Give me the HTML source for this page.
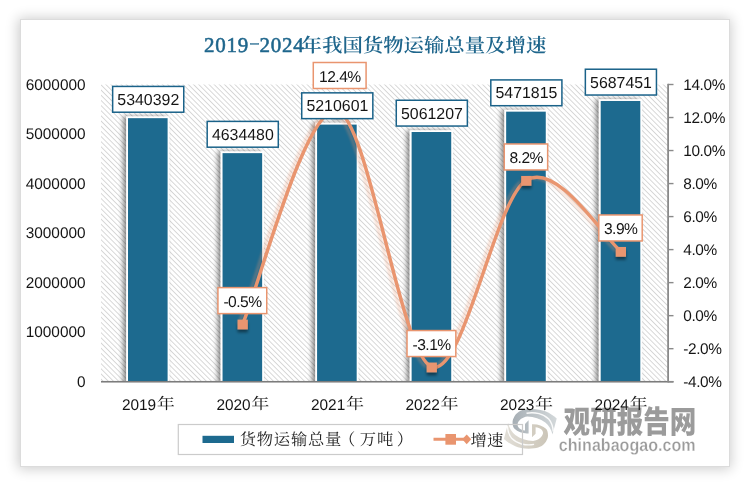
<!DOCTYPE html>
<html lang="zh"><head><meta charset="utf-8"><title>2019-2024年我国货物运输总量及增速</title>
<style>
html,body{margin:0;padding:0;background:#fff;}
body{width:750px;height:486px;position:relative;overflow:hidden;font-family:"Liberation Sans","Noto Sans CJK SC",sans-serif;}
.card{position:absolute;left:20px;top:18.7px;width:707.8px;height:446px;background:#fff;border:1px solid #dcdcdc;box-shadow:-0.5px 0.5px 12px 1.5px rgba(0,0,0,0.2);}
svg{position:absolute;left:0;top:0;text-rendering:geometricPrecision;}
.num{font-family:"Liberation Sans",sans-serif;font-size:15.4px;fill:#151515;}
.sp{letter-spacing:0px;}
.cjk{font-family:"Liberation Serif","Noto Serif CJK SC",serif;}
</style></head><body>
<div class="card"></div>
<svg width="750" height="486" viewBox="0 0 750 486">
<defs>
<pattern id="hatch" width="3.65" height="3.65" patternUnits="userSpaceOnUse" patternTransform="rotate(-45)">
<rect width="3.65" height="3.65" fill="#fff"/><rect x="0" y="0" width="0.7" height="3.65" fill="#c9c9c9"/>
</pattern>
<filter id="bsh" x="-30%" y="-5%" width="160%" height="110%"><feGaussianBlur in="SourceAlpha" stdDeviation="2.6"/><feOffset dx="-2.6" dy="-0.5"/><feComponentTransfer><feFuncA type="linear" slope="0.47"/></feComponentTransfer><feMerge><feMergeNode/><feMergeNode in="SourceGraphic"/></feMerge></filter>
<filter id="msh" x="-50%" y="-50%" width="200%" height="220%"><feGaussianBlur in="SourceAlpha" stdDeviation="1.5"/><feOffset dx="0" dy="2.5"/><feComponentTransfer><feFuncA type="linear" slope="0.45"/></feComponentTransfer><feMerge><feMergeNode/><feMergeNode in="SourceGraphic"/></feMerge></filter>
<filter id="lsh" x="-5%" y="-5%" width="110%" height="110%"><feGaussianBlur stdDeviation="1.3"/></filter>
</defs>

<rect x="101.0" y="84.5" width="567.1" height="297.2" fill="url(#hatch)"/>
<clipPath id="pc"><rect x="101.0" y="64.5" width="567.1" height="317.2"/></clipPath><g clip-path="url(#pc)">
<rect x="126.20" y="116.47" width="43.2" height="271.53" fill="#fff" filter="url(#bsh)"/>
<rect x="128.00" y="118.17" width="39.6" height="263.53" fill="#1d6a8f"/>
<rect x="220.74" y="151.44" width="43.2" height="236.56" fill="#fff" filter="url(#bsh)"/>
<rect x="222.54" y="153.14" width="39.6" height="228.56" fill="#1d6a8f"/>
<rect x="315.28" y="122.90" width="43.2" height="265.10" fill="#fff" filter="url(#bsh)"/>
<rect x="317.08" y="124.60" width="39.6" height="257.10" fill="#1d6a8f"/>
<rect x="409.82" y="130.30" width="43.2" height="257.70" fill="#fff" filter="url(#bsh)"/>
<rect x="411.62" y="132.00" width="39.6" height="249.70" fill="#1d6a8f"/>
<rect x="504.36" y="109.96" width="43.2" height="278.04" fill="#fff" filter="url(#bsh)"/>
<rect x="506.16" y="111.66" width="39.6" height="270.04" fill="#1d6a8f"/>
<rect x="598.90" y="99.28" width="43.2" height="288.72" fill="#fff" filter="url(#bsh)"/>
<rect x="600.70" y="100.98" width="39.6" height="280.72" fill="#1d6a8f"/>
</g>
<g id="wm">
<defs>
<linearGradient id="gU" gradientUnits="userSpaceOnUse" x1="512" y1="0" x2="557" y2="0"><stop offset="0" stop-color="#a6aeb4"/><stop offset="0.45" stop-color="#bbc2c6"/><stop offset="1" stop-color="#d3d8da"/></linearGradient>
<linearGradient id="gL" gradientUnits="userSpaceOnUse" x1="512" y1="0" x2="557" y2="0"><stop offset="0" stop-color="#cbc5b8"/><stop offset="0.45" stop-color="#d5d0c5"/><stop offset="1" stop-color="#e2dfd8"/></linearGradient>
</defs>
<g transform="rotate(180 530.3 428.8)"><path d="M528.6,420.3 L528.6,433.4 C524,433.8 518,432.5 514.3,428.6 C512.3,426 512,420 513.7,417.9 C516,412.5 521,409.8 526.3,409.3 C533,408.3 541,409.3 545.3,411.3 C550,413.2 554,416 556.7,418.5 L552.5,434.6 C551.3,429.5 548.6,425.3 545.3,422.6 C540.5,419 534,417 527.5,416.6 C522,417.2 518.5,420.5 517.6,424 C517.2,427 520,430 525,430.4 L525,423.9 Z" fill="url(#gL)"/><path d="M526.5,413.2 C535,411.6 544,414 548.7,419 C551.7,422.5 553,427 553.2,431.5" fill="none" stroke="#fff" stroke-width="1.4" opacity="0.9"/></g>
<g><path d="M528.6,420.3 L528.6,433.4 C524,433.8 518,432.5 514.3,428.6 C512.3,426 512,420 513.7,417.9 C516,412.5 521,409.8 526.3,409.3 C533,408.3 541,409.3 545.3,411.3 C550,413.2 554,416 556.7,418.5 L552.5,434.6 C551.3,429.5 548.6,425.3 545.3,422.6 C540.5,419 534,417 527.5,416.6 C522,417.2 518.5,420.5 517.6,424 C517.2,427 520,430 525,430.4 L525,423.9 Z" fill="url(#gU)"/><path d="M526.5,413.2 C535,411.6 544,414 548.7,419 C551.7,422.5 553,427 553.2,431.5" fill="none" stroke="#fff" stroke-width="1.4" opacity="0.9"/></g>
<text transform="translate(563.6,432.5) scale(1.013,1.19)" font-family="'Noto Sans CJK SC','WenQuanYi Zen Hei',sans-serif" font-weight="900" font-size="26.2px" fill="#9b9b9b">观研报告网</text>
<text transform="translate(558.8,450.8) scale(0.905,1)" font-family="'Liberation Sans',sans-serif" font-weight="bold" font-size="17.8px" fill="#9b9b9b" stroke="#fff" stroke-width="0.3">chinabaogao.com</text>
</g>
<rect x="101.0" y="380.95" width="572.5" height="1.6" fill="#7c7c7c"/>
<rect x="667.2" y="83.8" width="1.8" height="298.59999999999997" fill="#8a8a8a"/>
<rect x="668.1" y="83.80" width="5.4" height="1.4" fill="#8a8a8a"/>
<text class="num" x="683.3" y="89.50" letter-spacing="-0.4px">14.0%</text>
<rect x="668.1" y="116.82" width="5.4" height="1.4" fill="#8a8a8a"/>
<text class="num" x="683.3" y="122.52" letter-spacing="-0.4px">12.0%</text>
<rect x="668.1" y="149.84" width="5.4" height="1.4" fill="#8a8a8a"/>
<text class="num" x="683.3" y="155.54" letter-spacing="-0.4px">10.0%</text>
<rect x="668.1" y="182.87" width="5.4" height="1.4" fill="#8a8a8a"/>
<text class="num" x="683.3" y="188.57" letter-spacing="-0.4px">8.0%</text>
<rect x="668.1" y="215.89" width="5.4" height="1.4" fill="#8a8a8a"/>
<text class="num" x="683.3" y="221.59" letter-spacing="-0.4px">6.0%</text>
<rect x="668.1" y="248.91" width="5.4" height="1.4" fill="#8a8a8a"/>
<text class="num" x="683.3" y="254.61" letter-spacing="-0.4px">4.0%</text>
<rect x="668.1" y="281.93" width="5.4" height="1.4" fill="#8a8a8a"/>
<text class="num" x="683.3" y="287.63" letter-spacing="-0.4px">2.0%</text>
<rect x="668.1" y="314.96" width="5.4" height="1.4" fill="#8a8a8a"/>
<text class="num" x="683.3" y="320.66" letter-spacing="-0.4px">0.0%</text>
<rect x="668.1" y="347.98" width="5.4" height="1.4" fill="#8a8a8a"/>
<text class="num" x="683.3" y="353.68" letter-spacing="-0.4px">-2.0%</text>
<rect x="668.1" y="381.00" width="5.4" height="1.4" fill="#8a8a8a"/>
<text class="num" x="683.3" y="386.70" letter-spacing="-0.4px">-4.0%</text>
<text class="num sp" x="85.6" y="386.70" text-anchor="end">0</text>
<text class="num sp" x="85.6" y="337.17" text-anchor="end">1000000</text>
<text class="num sp" x="85.6" y="287.63" text-anchor="end">2000000</text>
<text class="num sp" x="85.6" y="238.10" text-anchor="end">3000000</text>
<text class="num sp" x="85.6" y="188.57" text-anchor="end">4000000</text>
<text class="num sp" x="85.6" y="139.03" text-anchor="end">5000000</text>
<text class="num sp" x="85.6" y="89.50" text-anchor="end">6000000</text>
<text class="num" x="121.90" y="409.6">2019</text>
<text class="cjk" fill="#151515" transform="translate(156.80,409.4) scale(1.05,0.9)" font-size="17.2px">年</text>
<text class="num" x="216.44" y="409.6">2020</text>
<text class="cjk" fill="#151515" transform="translate(251.34,409.4) scale(1.05,0.9)" font-size="17.2px">年</text>
<text class="num" x="310.98" y="409.6">2021</text>
<text class="cjk" fill="#151515" transform="translate(345.88,409.4) scale(1.05,0.9)" font-size="17.2px">年</text>
<text class="num" x="405.52" y="409.6">2022</text>
<text class="cjk" fill="#151515" transform="translate(440.42,409.4) scale(1.05,0.9)" font-size="17.2px">年</text>
<text class="num" x="500.06" y="409.6">2023</text>
<text class="cjk" fill="#151515" transform="translate(534.96,409.4) scale(1.05,0.9)" font-size="17.2px">年</text>
<text class="num" x="594.60" y="409.6">2024</text>
<text class="cjk" fill="#151515" transform="translate(629.50,409.4) scale(1.05,0.9)" font-size="17.2px">年</text>
<path d="M242.64,323.91 C258.40,288.41 305.67,103.76 337.18,110.92 C368.69,118.07 400.21,355.28 431.72,366.84 C463.23,378.40 494.75,199.53 526.26,180.26 C557.77,161.00 605.04,239.43 620.80,251.26" fill="none" stroke="#e9956f" stroke-width="3.4" opacity="0.28" transform="translate(-4,0.5)" filter="url(#lsh)"/>
<path d="M242.64,323.91 C258.40,288.41 305.67,103.76 337.18,110.92 C368.69,118.07 400.21,355.28 431.72,366.84 C463.23,378.40 494.75,199.53 526.26,180.26 C557.77,161.00 605.04,239.43 620.80,251.26" fill="none" stroke="#e9956f" stroke-width="3.5" stroke-linecap="round" stroke-linejoin="round"/>
<rect x="237.54" y="319.61" width="10.3" height="9.8" fill="#e9956f" filter="url(#msh)"/>
<rect x="332.08" y="106.62" width="10.3" height="9.8" fill="#e9956f" filter="url(#msh)"/>
<rect x="426.62" y="362.54" width="10.3" height="9.8" fill="#e9956f" filter="url(#msh)"/>
<rect x="521.16" y="175.96" width="10.3" height="9.8" fill="#e9956f" filter="url(#msh)"/>
<rect x="615.70" y="246.96" width="10.3" height="9.8" fill="#e9956f" filter="url(#msh)"/>
<rect x="112.65" y="86.42" width="71.1" height="25.8" fill="#fff" stroke="#1a6289" stroke-width="1.5"/>
<text class="num" style="font-size:15.9px" x="148.30" y="104.87" text-anchor="middle">5340392</text>
<rect x="207.19" y="121.39" width="71.1" height="25.8" fill="#fff" stroke="#1a6289" stroke-width="1.5"/>
<text class="num" style="font-size:15.9px" x="242.84" y="139.84" text-anchor="middle">4634480</text>
<rect x="301.73" y="92.85" width="71.1" height="25.8" fill="#fff" stroke="#1a6289" stroke-width="1.5"/>
<text class="num" style="font-size:15.9px" x="337.38" y="111.30" text-anchor="middle">5210601</text>
<rect x="396.27" y="100.25" width="71.1" height="25.8" fill="#fff" stroke="#1a6289" stroke-width="1.5"/>
<text class="num" style="font-size:15.9px" x="431.92" y="118.70" text-anchor="middle">5061207</text>
<rect x="490.81" y="79.91" width="71.1" height="25.8" fill="#fff" stroke="#1a6289" stroke-width="1.5"/>
<text class="num" style="font-size:15.9px" x="526.46" y="98.36" text-anchor="middle">5471815</text>
<rect x="585.35" y="69.23" width="71.1" height="25.8" fill="#fff" stroke="#1a6289" stroke-width="1.5"/>
<text class="num" style="font-size:15.9px" x="621.00" y="87.68" text-anchor="middle">5687451</text>
<rect x="217.94" y="287.61" width="48.8" height="26.0" fill="#fff" stroke="#e9956f" stroke-width="1.5"/>
<text class="num" style="font-size:15.6px;letter-spacing:-0.5px" x="242.54" y="306.71" text-anchor="middle">-0.5%</text>
<rect x="313.28" y="62.50" width="52.8" height="26.0" fill="#fff" stroke="#e9956f" stroke-width="1.5"/>
<text class="num" style="font-size:15.6px;letter-spacing:-0.5px" x="339.88" y="81.60" text-anchor="middle">12.4%</text>
<rect x="407.02" y="330.54" width="48.8" height="26.0" fill="#fff" stroke="#e9956f" stroke-width="1.5"/>
<text class="num" style="font-size:15.6px;letter-spacing:-0.5px" x="431.62" y="349.64" text-anchor="middle">-3.1%</text>
<rect x="504.26" y="143.96" width="43.4" height="26.0" fill="#fff" stroke="#e9956f" stroke-width="1.5"/>
<text class="num" style="font-size:15.6px;letter-spacing:-0.5px" x="526.16" y="163.06" text-anchor="middle">8.2%</text>
<rect x="598.80" y="214.96" width="43.4" height="26.0" fill="#fff" stroke="#e9956f" stroke-width="1.5"/>
<text class="num" style="font-size:15.6px;letter-spacing:-0.5px" x="620.70" y="234.06" text-anchor="middle">3.9%</text>
<g fill="#1f668c" class="cjk"><text x="204" y="51.6" font-size="21px" letter-spacing="0.75px" stroke="#1f668c" stroke-width="0.55">2019</text><text transform="translate(249.2,47.3) scale(1.5,0.62)" font-size="21px" stroke="#1f668c" stroke-width="0.5">-</text><text x="259.4" y="51.6" font-size="21px" letter-spacing="0.75px" stroke="#1f668c" stroke-width="0.55">2024</text><text transform="translate(301.6,51.7) scale(1,0.94)" font-size="20.4px" font-weight="600">年我国货物运输总量及增速</text></g>
<rect x="178.3" y="424.5" width="344.2" height="30" fill="none" stroke="#cbcbcb" stroke-width="1.2"/>
<rect x="202.5" y="435.8" width="31.5" height="7.2" fill="#1d6a8f"/>
<text x="239.7" y="445.3" class="cjk" font-size="16.3px" fill="#222" letter-spacing="0.8px">货物运输总量<tspan dx="-3.3">（</tspan><tspan dx="3.7">万</tspan><tspan dx="0.2">吨</tspan><tspan dx="2.6">）</tspan></text>
<path d="M433.5,439.3 H466" stroke="#e9956f" stroke-width="3" fill="none"/>
<rect x="445.4" y="434" width="10.6" height="10.7" fill="#e9956f"/>
<path d="M462.2,439.3 l4.5,-4.9 l4.5,4.9 l-4.5,4.9z" fill="#e9956f"/>
<text x="470.6" y="445.5" class="cjk" font-size="16.3px" fill="#222">增速</text>
</svg></body></html>
